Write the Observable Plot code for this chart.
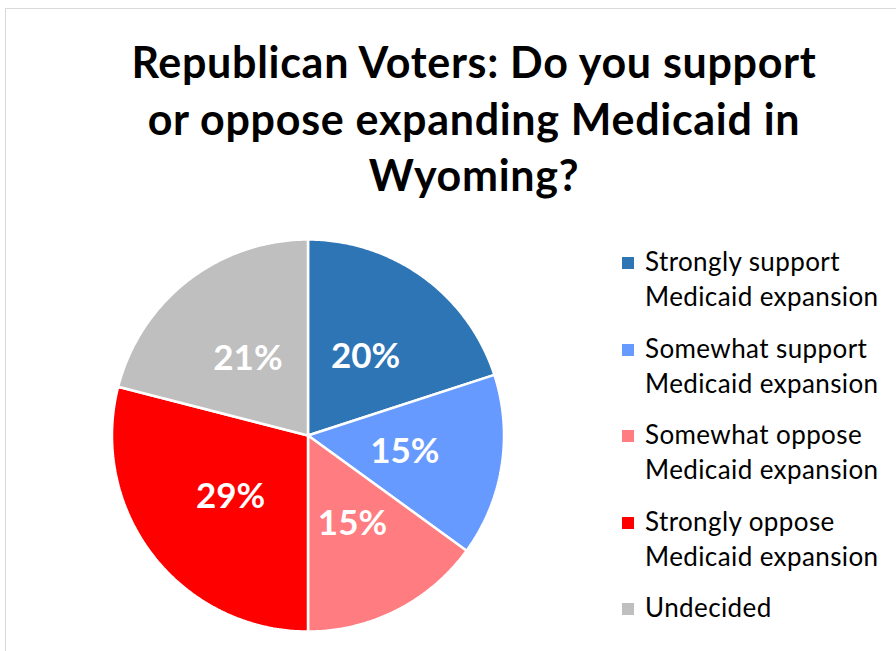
<!DOCTYPE html>
<html>
<head>
<meta charset="utf-8">
<script src="https://cdn.jsdelivr.net/npm/d3@7"></script>
<script src="https://cdn.jsdelivr.net/npm/@observablehq/plot@0.6"></script>
<style>
  html, body { margin: 0; padding: 0; background: #fff; }
  #wrap { position: relative; width: 896px; height: 651px; overflow: hidden; font-family: Lato, "Open Sans", sans-serif; }
  #frame { position: absolute; left: 5px; top: 8px; width: 1000px; height: 1000px; border: 1px solid #d9d9d9; box-sizing: border-box; }
  #chart { position: absolute; left: 0; top: 0; }
  #title { position: absolute; left: 74px; width: 800px; top: 34px; text-align: center; font-weight: 700; font-size: 43px; letter-spacing: 0.7px; line-height: 56.5px; color: #000; }
  #legend { position: absolute; left: 622px; top: 244px; }
  .item { position: relative; padding-left: 23px; font-size: 26px; letter-spacing: 0.4px; line-height: 35px; height: 86.6px; color: #000; }
  .sw { position: absolute; left: 0; top: 13px; width: 12px; height: 12px; }
</style>
</head>
<body>
<div id="wrap">
  <div id="frame"></div>
  <div id="chart"></div>
  <div id="title">Republican Voters: Do you support<br>or oppose expanding Medicaid in<br>Wyoming?</div>
  <div id="legend"></div>
</div>
<script>
const categories = ["Strongly support Medicaid expansion", "Somewhat support Medicaid expansion", "Somewhat oppose Medicaid expansion", "Strongly oppose Medicaid expansion", "Undecided"];
const legendLines = [["Strongly support", "Medicaid expansion"], ["Somewhat support", "Medicaid expansion"], ["Somewhat oppose", "Medicaid expansion"], ["Strongly oppose", "Medicaid expansion"], ["Undecided"]];
const values = [20, 15, 15, 29, 21];
const colors = ["#2e75b6", "#669aff", "#ff7c80", "#ff0000", "#bfbfbf"];

const total = d3.sum(values);
const arcs = d3.pie().sort(null).value(d => d)(values);

// slice polygons in unit-circle coordinates (angle measured clockwise from north)
const poly = [];
arcs.forEach((a, i) => {
  const cat = categories[i];
  poly.push({cat, x: 0, y: 0});
  const n = Math.max(2, Math.ceil((a.endAngle - a.startAngle) / 0.01));
  for (let k = 0; k <= n; k++) {
    const t = a.startAngle + (a.endAngle - a.startAngle) * k / n;
    poly.push({cat, x: Math.sin(t), y: Math.cos(t)});
  }
  poly.push({cat, x: 0, y: 0});
});
const labels = arcs.map((a, i) => {
  const m = (a.startAngle + a.endAngle) / 2;
  return {cat: categories[i], x: 0.5 * Math.sin(m), y: 0.5 * Math.cos(m), text: Math.round(values[i] / total * 100) + "%"};
});

const cx = 307.5, cy = 435, r = 196;
const chart = Plot.plot({
  width: 896,
  height: 651,
  margin: 0,
  x: {domain: [-1, 1], range: [cx - r, cx + r], axis: null},
  y: {domain: [-1, 1], range: [cy + r, cy - r], axis: null},
  color: {domain: categories, range: colors},
  style: {background: "transparent"},
  marks: [
    Plot.line(poly, {x: "x", y: "y", z: "cat", fill: "cat", stroke: "#fff", strokeWidth: 2.5, strokeLinejoin: "miter", curve: "linear"}),
    Plot.text(labels, {x: "x", y: "y", dy: 1, text: "text", fill: "#fff", fontSize: 35, fontWeight: 700, fontFamily: "Lato, sans-serif"})
  ]
});
document.getElementById("chart").appendChild(chart);

const leg = document.getElementById("legend");
legendLines.forEach((lines, i) => {
  const div = document.createElement("div");
  div.className = "item";
  const sw = document.createElement("span");
  sw.className = "sw";
  sw.style.background = colors[i];
  div.appendChild(sw);
  div.innerHTML += lines.join("<br>");
  leg.appendChild(div);
});
</script>
</body>
</html>
